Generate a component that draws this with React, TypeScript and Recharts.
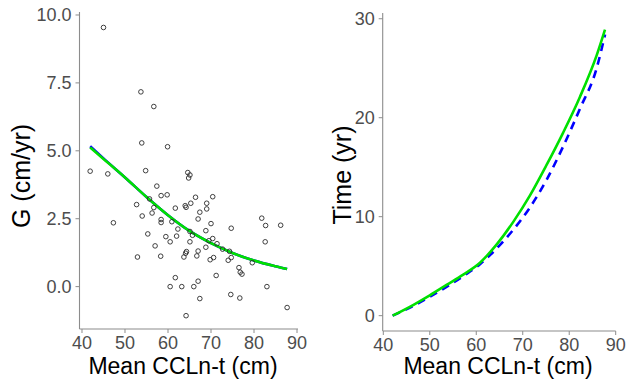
import { ComposedChart, LineChart, Line, Scatter, XAxis, YAxis, Label } from 'recharts';

// left panel: observed growth vs mean size
const meanCcl = [
  45.0, 53.7, 56.7, 53.9, 59.9, 41.9, 46.0, 54.8, 64.6, 65.1, 64.8, 57.4, 52.7, 55.7, 58.4, 59.8,
  66.4, 70.4, 69.0, 65.3, 64.0, 64.2, 61.7, 56.7, 69.0, 67.4, 56.3, 54.0, 47.3, 58.4, 58.4, 60.9,
  67.0, 70.0, 62.3, 65.1, 68.8, 74.7, 81.8, 82.7, 86.2, 82.6, 55.3, 59.5, 62.0, 65.7, 60.5, 65.1,
  69.5, 70.4, 71.4, 68.8, 72.7, 74.3, 57.0, 64.3, 64.1, 67.0, 66.7, 63.7, 52.9, 58.3, 69.8, 70.6,
  74.0, 74.7, 79.6, 76.5, 76.8, 77.2, 71.2, 61.7, 67.0, 60.5, 63.2, 66.0, 83.0, 67.4, 74.6, 76.7,
  87.7, 64.2,
];
const growth = [
  9.54, 7.17, 6.63, 5.29, 5.15, 4.25, 4.15, 4.27, 4.2, 4.11, 4.0, 3.7, 3.02, 3.23, 3.35, 3.38,
  3.29, 3.31, 3.07, 3.07, 2.98, 2.92, 2.89, 2.91, 2.86, 2.74, 2.71, 2.6, 2.35, 2.47, 2.36, 2.39,
  2.49, 2.32, 2.12, 2.03, 2.06, 2.15, 2.52, 2.25, 2.26, 1.65, 1.94, 1.84, 1.86, 1.89, 1.65, 1.65,
  1.69, 1.77, 1.58, 1.45, 1.38, 1.3, 1.5, 1.29, 1.23, 1.31, 1.13, 1.09, 1.09, 1.12, 0.99, 1.07,
  0.97, 1.07, 0.88, 0.7, 0.53, 0.46, 0.41, 0.33, 0.2, 0.0, 0.0, 0.0, 0.0, -0.44, -0.29, -0.42,
  -0.77, -1.07,
];

// fitted growth curves
const fitCcl = [41.9, 45, 50, 55, 60, 65, 70, 75, 80, 85, 87.7];
const fitGreen = [5.12, 4.7, 4.02, 3.3, 2.63, 2.05, 1.6, 1.24, 0.96, 0.75, 0.65];
const fitBlue = [5.17, 4.72, 4.02, 3.3, 2.63, 2.05, 1.6, 1.24, 0.96, 0.75, 0.65];

// right panel: time to grow
const ageCcl = [42, 46.5, 50, 53.6, 57.2, 60.8, 64.4, 68, 71.5, 75.1, 78.7, 82.3, 85.9, 87.7];
const timeGreen = [0, 1.1, 2.05, 3.1, 4.15, 5.35, 7.2, 9.5, 12.1, 15.2, 18.5, 22.1, 26.3, 28.9];
const timeBlue = [0, 1.0, 1.9, 2.9, 4.0, 5.2, 6.8, 8.7, 10.9, 13.7, 17.1, 20.9, 25.0, 28.4];

const xTicks = [40, 50, 60, 70, 80, 90];
const gTicks = [0, 2.5, 5, 7.5, 10];
const timeTicks = [0, 10, 20, 30];

const points = meanCcl.map((x, i) => ({ x, y: growth[i] }));
const greenFit = fitCcl.map((x, i) => ({ x, y: fitGreen[i] }));
const blueFit = fitCcl.map((x, i) => ({ x, y: fitBlue[i] }));
const timeData = ageCcl.map((x, i) => ({ x, green: timeGreen[i], blue: timeBlue[i] }));

const font = '"Liberation Sans", Arial, sans-serif';
const axisStroke = '#8c8c8c';
const tickStyle = { fill: '#4d4d4d', fontSize: 18, fontFamily: font };
const GREEN = '#00e000';
const BLUE = '#0000ff';

const Hollow = (props: any) => (
  <circle cx={props.cx} cy={props.cy} r={2.3} fill="none" stroke="#2b2b2b" strokeWidth={0.9} />
);

const xTitle = (cx: number) => () => (
  <text x={cx} y={374} textAnchor="middle" fontSize={23} fontFamily={font} fill="#000">
    Mean CCLn-t (cm)
  </text>
);
const yTitle = (text: string, cx: number, cy: number) => () => (
  <text
    x={cx}
    y={cy}
    transform={`rotate(-90, ${cx}, ${cy})`}
    textAnchor="middle"
    dominantBaseline="central"
    fontSize={25}
    fontFamily={font}
    fill="#000"
  >
    {text}
  </text>
);

export default function App() {
  return (
    <div style={{ position: 'absolute', left: 0, top: 0, width: 627, height: 387, background: '#fff' }}>
      <div style={{ position: 'absolute', left: 0, top: 0 }}>
        <ComposedChart width={320} height={387} margin={{ top: 12, right: 22, bottom: 0, left: 0 }}>
          <XAxis
            dataKey="x"
            type="number"
            domain={[39.42, 90.23]}
            allowDataOverflow
            ticks={xTicks}
            height={58}
            tickSize={4}
            tickMargin={3}
            tick={tickStyle}
            axisLine={{ stroke: axisStroke, strokeWidth: 1.1 }}
            tickLine={{ stroke: axisStroke }}
          >
            <Label content={xTitle(183)} />
          </XAxis>
          <YAxis
            dataKey="y"
            type="number"
            domain={[-1.56, 10.11]}
            allowDataOverflow
            ticks={gTicks}
            width={79.5}
            tickSize={4}
            tickMargin={4}
            tick={tickStyle}
            tickFormatter={(v: number) => v.toFixed(1)}
            axisLine={{ stroke: axisStroke, strokeWidth: 1.1 }}
            tickLine={{ stroke: axisStroke }}
          >
            <Label content={yTitle('G (cm/yr)', 21, 176)} />
          </YAxis>
          <Scatter data={points} dataKey="y" shape={Hollow} isAnimationActive={false} />
          <Line data={blueFit} dataKey="y" type="monotone" stroke={BLUE} strokeWidth={2.6} dot={false} isAnimationActive={false} />
          <Line data={greenFit} dataKey="y" type="monotone" stroke={GREEN} strokeWidth={2.6} dot={false} isAnimationActive={false} />
        </ComposedChart>
      </div>
      <div style={{ position: 'absolute', left: 320, top: 0 }}>
        <LineChart data={timeData} width={307} height={387} margin={{ top: 13, right: 11.3, bottom: 0, left: 0 }}>
          <XAxis
            dataKey="x"
            type="number"
            domain={[39.87, 90.0]}
            allowDataOverflow
            ticks={xTicks}
            height={56}
            tickSize={4}
            tickMargin={3}
            tick={tickStyle}
            axisLine={{ stroke: axisStroke, strokeWidth: 1.1 }}
            tickLine={{ stroke: axisStroke }}
          >
            <Label content={xTitle(178)} />
          </XAxis>
          <YAxis
            type="number"
            domain={[-1.55, 30.58]}
            allowDataOverflow
            ticks={timeTicks}
            width={62.7}
            tickSize={4}
            tickMargin={4}
            tick={tickStyle}
            axisLine={{ stroke: axisStroke, strokeWidth: 1.1 }}
            tickLine={{ stroke: axisStroke }}
          >
            <Label content={yTitle('Time (yr)', 22, 175)} />
          </YAxis>
          <Line dataKey="blue" type="monotone" stroke={BLUE} strokeWidth={2.6} strokeDasharray="8 6" dot={false} isAnimationActive={false} />
          <Line dataKey="green" type="monotone" stroke={GREEN} strokeWidth={2.6} dot={false} isAnimationActive={false} />
        </LineChart>
      </div>
    </div>
  );
}
